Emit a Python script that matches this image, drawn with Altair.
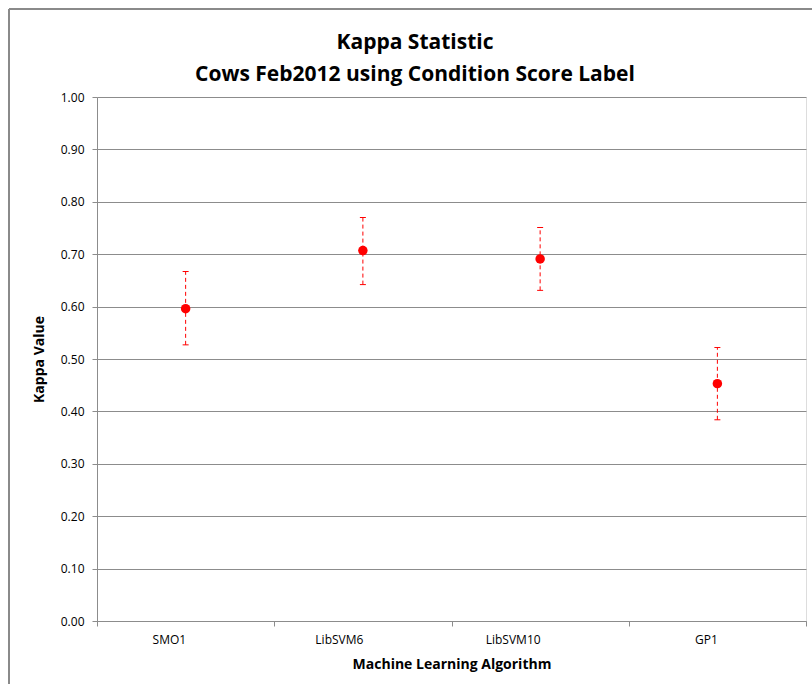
import altair as alt
import pandas as pd

# Kappa statistic per algorithm, with lower / upper error limits
algorithms = ["SMO1", "LibSVM6", "LibSVM10", "GP1"]
kappa = [0.596, 0.707, 0.691, 0.453]
kappa_low = [0.527, 0.642, 0.631, 0.384]
kappa_high = [0.667, 0.770, 0.751, 0.522]
y_ticks = [round(i * 0.1, 1) for i in range(11)]
title_lines = ["Kappa Statistic", "Cows Feb2012 using Condition Score Label"]

df = pd.DataFrame({
    "algorithm": algorithms,
    "kappa": kappa,
    "low": kappa_low,
    "high": kappa_high,
})

FONT = "Open Sans"
GRID = "#8c8c8c"
RED = "#ff0000"

x_enc = alt.X(
    "algorithm:N",
    sort=algorithms,
    title="Machine Learning Algorithm",
    scale=alt.Scale(paddingInner=0, paddingOuter=0),
    axis=alt.Axis(
        tickBand="extent",
        labelAngle=0,
        labelFont=FONT,
        labelFontSize=12,
        labelColor="#000000",
        labelPadding=13,
        titleFont=FONT,
        titleFontSize=14,
        titleFontWeight="bold",
        titleColor="#000000",
        titlePadding=12,
        domainColor=GRID,
        tickColor=GRID,
        tickSize=5,
        grid=False,
    ),
)

y_scale = alt.Scale(domain=[0, 1], nice=False)

base = alt.Chart(df)

points = base.mark_point(filled=True, size=90, color=RED, opacity=1).encode(
    x=x_enc,
    y=alt.Y(
        "kappa:Q",
        scale=y_scale,
        title="Kappa Value",
        axis=alt.Axis(
            values=y_ticks,
            format=".2f",
            labelFont=FONT,
            labelFontSize=12,
            labelColor="#000000",
            labelPadding=8,
            titleFont=FONT,
            titleFontSize=14,
            titleFontWeight="bold",
            titleColor="#000000",
            titlePadding=14,
            domainColor=GRID,
            tickColor=GRID,
            tickSize=5,
            gridColor=GRID,
            gridWidth=1,
        ),
    ),
)

bars = base.mark_rule(color=RED, strokeWidth=1, strokeDash=[4, 3]).encode(
    x=alt.X("algorithm:N", sort=algorithms),
    y=alt.Y("low:Q", scale=y_scale),
    y2="high:Q",
)

cap_hi = base.mark_tick(color=RED, thickness=1, size=6, opacity=1, orient="horizontal").encode(
    x=alt.X("algorithm:N", sort=algorithms),
    y=alt.Y("high:Q", scale=y_scale),
)
cap_lo = base.mark_tick(color=RED, thickness=1, size=6, opacity=1, orient="horizontal").encode(
    x=alt.X("algorithm:N", sort=algorithms),
    y=alt.Y("low:Q", scale=y_scale),
)

# outer chart-area frame (top and left edges)
frame_top = alt.Chart(df).mark_rule(color="#8a8a8a", strokeWidth=1.5).encode(
    x=alt.value(-88), x2=alt.value(720), y=alt.value(-88)
)
frame_left = alt.Chart(df).mark_rule(color="#8a8a8a", strokeWidth=1.5).encode(
    x=alt.value(-88), y=alt.value(-88), y2=alt.value(600)
)

# two-line chart heading
title_1 = alt.Chart(pd.DataFrame({"t": [title_lines[0]]})).mark_text(
    font=FONT, fontSize=21, fontWeight="bold", color="#000000",
    align="center", baseline="alphabetic",
).encode(text="t:N", x=alt.value(318), y=alt.value(-48))
title_2 = alt.Chart(pd.DataFrame({"t": [title_lines[1]]})).mark_text(
    font=FONT, fontSize=21, fontWeight="bold", color="#000000",
    align="center", baseline="alphabetic",
).encode(text="t:N", x=alt.value(318), y=alt.value(-16))

chart = (
    alt.layer(frame_top, frame_left, bars, cap_hi, cap_lo, points, title_1, title_2)
    .properties(
        width=709,
        height=524,
        autosize=alt.AutoSizeParams(type="none"),
        padding={"left": 97, "top": 97, "right": 6, "bottom": 63},
    )
    .configure_view(stroke=None)
    .configure(background="#ffffff")
)

chart.save("out.html", embed_options={"renderer": "svg", "actions": False})
